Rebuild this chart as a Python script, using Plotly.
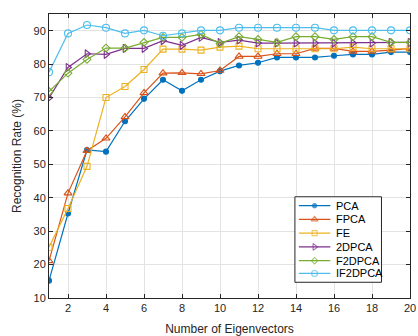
import plotly.graph_objects as go

x_vals = list(range(1, 21))
pca = [15.2, 35.3, 54.3, 53.8, 62.9, 69.6, 75.3, 72.0, 75.3, 77.9, 79.6, 80.4, 82.0, 82.0, 82.0, 82.5, 82.9, 82.9, 83.6, 83.6]
fpca = [21.1, 41.4, 54.1, 57.8, 64.2, 71.4, 77.3, 77.4, 77.1, 78.1, 82.3, 82.3, 83.1, 83.1, 84.7, 84.7, 83.8, 83.8, 84.2, 84.7]
fe = [25.2, 36.8, 49.4, 70.0, 73.3, 78.4, 84.5, 84.5, 84.2, 85.1, 85.4, 84.6, 84.6, 84.6, 84.6, 84.6, 85.1, 84.6, 84.6, 84.6]
d2pca = [69.9, 79.0, 83.1, 82.9, 84.7, 84.7, 87.0, 85.6, 88.0, 86.5, 87.2, 86.3, 86.3, 86.3, 86.3, 86.3, 86.3, 86.3, 86.5, 86.5]
f2dpca = [71.8, 77.3, 81.4, 84.8, 84.8, 86.5, 88.0, 88.0, 88.9, 86.2, 88.2, 87.4, 86.5, 88.2, 88.2, 87.4, 88.2, 88.2, 86.5, 86.5]
if2dpca = [77.6, 89.2, 91.7, 90.9, 89.2, 90.1, 88.5, 89.2, 90.1, 90.1, 90.9, 90.9, 90.9, 90.9, 90.9, 90.1, 90.1, 90.1, 90.1, 90.1]

names = ["PCA", "FPCA", "FE", "2DPCA", "F2DPCA", "IF2DPCA"]
series = [pca, fpca, fe, d2pca, f2dpca, if2dpca]
colors = ["#0072BD", "#D95319", "#EDB120", "#7E2F8E", "#77AC30", "#4DBEEE"]
symbols = ["circle", "triangle-up-open", "square-open", "triangle-right-open", "diamond-open", "circle-open"]
msizes = [5, 7, 6, 7, 6, 7]

FONT = "Liberation Sans, Arial, sans-serif"
TXT = "#262626"

XR = [1, 20]
YR = [10, 95]
# plot area in pixels
L, R, T, B = 49, 416, 14, 303


def px_to_x(px):
    return XR[0] + (px - L) / (R - L) * (XR[1] - XR[0])


def px_to_y(py):
    return YR[0] + (B - py) / (B - T) * (YR[1] - YR[0])


fig = go.Figure()
for n, s, c, sym, ms in zip(names, series, colors, symbols, msizes):
    fig.add_trace(go.Scatter(
        x=x_vals, y=s, name=n, mode="lines+markers",
        line=dict(color=c, width=1.2),
        marker=dict(symbol=sym, size=ms, color=c, line=dict(color=c, width=1.1)),
        showlegend=False,
    ))

# custom compact legend box (MATLAB style)
leg_left, leg_right, leg_top, leg_bot = 299, 387, 200, 287
row_y = [209, 223, 237, 251, 265, 278]
line_x0, line_x1, text_x = 303, 335, 339

fig.add_shape(type="rect", xref="x", yref="y",
              x0=px_to_x(leg_left), x1=px_to_x(leg_right), y0=px_to_y(leg_bot), y1=px_to_y(leg_top),
              line=dict(color=TXT, width=1), fillcolor="white", layer="between")

for n, c, sym, ms, yy in zip(names, colors, symbols, msizes, row_y):
    fig.add_trace(go.Scatter(
        x=[px_to_x(line_x0), px_to_x((line_x0 + line_x1) / 2), px_to_x(line_x1)],
        y=[px_to_y(yy)] * 3,
        mode="lines+markers", showlegend=False, hoverinfo="skip",
        line=dict(color=c, width=1.2),
        marker=dict(symbol=sym, size=[0, ms - 1, 0], color=c, line=dict(color=c, width=1.1)),
    ))
    fig.add_annotation(x=px_to_x(text_x), y=px_to_y(yy), xref="x", yref="y", text=n, showarrow=False,
                       xanchor="left", yanchor="middle",
                       font=dict(family=FONT, size=11, color="#000000"))

axis_common = dict(
    showline=True, linecolor=TXT, linewidth=1, mirror="ticks",
    ticks="inside", ticklen=4, tickcolor=TXT,
    showgrid=True, gridcolor="#E3E3E3", gridwidth=1, zeroline=False,
    tickfont=dict(family=FONT, size=11, color=TXT),
    ticklabeloverflow="allow",
)

fig.update_layout(
    xaxis=dict(range=XR, tickmode="array", tickvals=[2, 4, 6, 8, 10, 12, 14, 16, 18, 20],
               title=dict(text="Number of Eigenvectors", standoff=11, font=dict(family=FONT, size=12, color=TXT)),
               **axis_common),
    yaxis=dict(range=YR, tickmode="array", tickvals=[10, 20, 30, 40, 50, 60, 70, 80, 90],
               title=dict(text="Recognition Rate (%)", standoff=9, font=dict(family=FONT, size=12, color=TXT)),
               **axis_common),
    width=418, height=336,
    margin=dict(l=L, r=418 - R, t=T, b=336 - B),
    plot_bgcolor="white", paper_bgcolor="white",
    showlegend=False,
)

fig.write_html("out.html")
